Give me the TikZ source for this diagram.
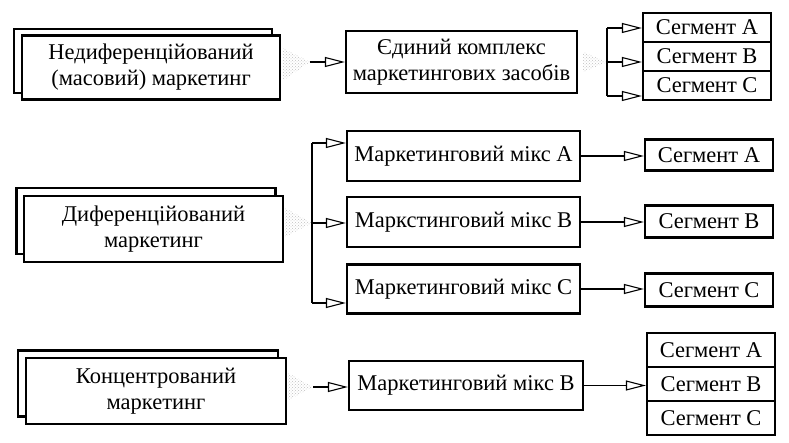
\documentclass[tikz,border=0pt]{standalone}
\usepackage{fontspec}
\setmainfont{Liberation Serif}
\usetikzlibrary{arrows.meta,calc,patterns}
\begin{document}
\begin{tikzpicture}[x=1pt,y=-1pt,
 box/.style={draw,line width=2.2pt,fill=white,align=center,inner sep=0pt,font=\fontsize{22.5}{26}\selectfont},
 seg/.style={box,minimum width=128pt},
 arr/.style={line width=1.3pt,-{Triangle[open,length=20pt,width=10pt,line width=1.1pt]}},
 ln/.style={line width=1.3pt},
 stip/.style={pattern=crosshatch dots,pattern color=gray!50}
]
\useasboundingbox (0,0) rectangle (789,443);

% ---------- top row ----------
\node[box,minimum width=258pt,minimum height=64pt] (n1b) at (143,61) {};
\node[box,minimum width=258pt,minimum height=64pt] (n1) at (151,67.5) {Недиференційований\\(масовий) маркетинг};
\node[box,minimum width=231pt,minimum height=62pt] (e1) at (461.5,62) {Єдиний комплекс\\маркетингових засобів};
\node[seg,minimum height=29pt] (s1a) at (707,27.5) {Сегмент A};
\node[seg,minimum height=29pt] (s1b) at (707,56.5) {Сегмент B};
\node[seg,minimum height=29pt] (s1c) at (707,85.5) {Сегмент C};

\coordinate (t1) at (310,62);
\fill[stip] ($(n1.east)+(2,-19)$) -- ($(n1.east)+(2,13)$) -- (t1) -- cycle;
\draw[arr] (t1) -- (t1 -| e1.west);

\coordinate (f1) at (607,62);
\coordinate (f1top) at (607,28);
\coordinate (f1bot) at (607,96);
\fill[stip] ($(e1.east)+(5,-10)$) -- ($(e1.east)+(5,10)$) -- (f1) -- cycle;
\draw[ln] (f1top) -- (f1bot);
\draw[arr] (f1top) -- (f1top -| s1a.west);
\draw[arr] (f1) -- (f1 -| s1b.west);
\draw[arr] (f1bot) -- (f1bot -| s1c.west);

% ---------- middle row ----------
\node[box,minimum width=259pt,minimum height=66pt] (n2b) at (146,221) {};
\node[box,minimum width=259pt,minimum height=66pt] (n2) at (153.5,229) {Диференційований\\маркетинг};
\node[box,minimum width=233pt,minimum height=50pt] (mA) at (463.5,156) {Маркетинговий мікс A};
\node[box,minimum width=233pt,minimum height=50pt] (mB) at (463.5,222) {Маркстинговий мікс B};
\node[box,minimum width=233pt,minimum height=49pt] (mC) at (463.5,289) {Маркетинговий мікс C};
\node[seg,minimum height=31pt] (s2a) at (709,155) {Сегмент A};
\node[seg,minimum height=32pt] (s2b) at (709,221.5) {Сегмент B};
\node[seg,minimum height=33pt] (s2c) at (709,290) {Сегмент C};

\coordinate (f2) at (312,223);
\coordinate (f2top) at (312,143);
\coordinate (f2bot) at (312,303);
\fill[stip] ($(n2.east)+(1,-21)$) -- ($(n2.east)+(1,8)$) -- (f2) -- cycle;
\draw[ln] (f2top) -- (f2bot);
\draw[arr] (f2top) -- (f2top -| mA.west);
\draw[arr] (f2) -- (f2 -| mB.west);
\draw[arr] (f2bot) -- (f2bot -| mC.west);
\draw[arr] (mA.east) -- (mA.east -| s2a.west);
\draw[arr] (mB.east) -- (mB.east -| s2b.west);
\draw[arr] (mC.east) -- (mC.east -| s2c.west);

% ---------- bottom row ----------
\node[box,minimum width=260pt,minimum height=66pt] (n3b) at (148,383.5) {};
\node[box,minimum width=260pt,minimum height=66pt] (n3) at (156,391) {Концентрований\\маркетинг};
\node[box,minimum width=234pt,minimum height=49pt] (m3) at (466,385.5) {Маркетинговий мікс B};
\node[seg,minimum height=34pt] (s3a) at (711,350) {Сегмент A};
\node[seg,minimum height=34pt] (s3b) at (711,384) {Сегмент B};
\node[seg,minimum height=34pt] (s3c) at (711,418) {Сегмент C};

\coordinate (t3) at (313,387);
\fill[stip] ($(n3.east)+(1,-18)$) -- ($(n3.east)+(1,9)$) -- (t3) -- cycle;
\draw[arr] (t3) -- (t3 -| m3.west);
\draw[arr] (m3.east) -- (m3.east -| s3b.west);
\end{tikzpicture}
\end{document}
